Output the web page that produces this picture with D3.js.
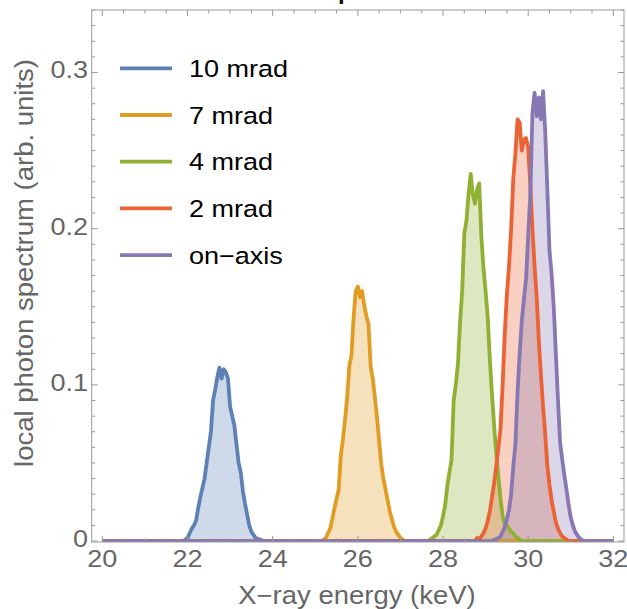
<!DOCTYPE html>
<html>
<head>
<meta charset="utf-8">
<script src="https://cdn.jsdelivr.net/npm/d3@7"></script>
<style>
  html, body { margin: 0; padding: 0; background: #fff; }
  svg { display: block; font-family: "Liberation Sans", Arial, Helvetica, sans-serif; }
</style>
</head>
<body>
<svg id="chart" width="627" height="609"></svg>
<script>
// ---------------- data ----------------
const seriesNames = ["10 mrad", "7 mrad", "4 mrad", "2 mrad", "on\u2212axis"];
const seriesColors = ["#5E81B5", "#E19C24", "#8FB032", "#EB6235", "#8778B3"];

const xTicks = [20, 22, 24, 26, 28, 30, 32];
const yTicks = [0, 0.1, 0.2, 0.3];
const yTickLabels = ["0", "0.1", "0.2", "0.3"];

// 10 mrad
const e10 = [21.90,21.95,22.00,22.05,22.10,22.15,22.20,22.25,22.30,22.35,22.40,22.45,22.50,22.55,22.60,22.65,22.70,22.75,22.80,22.85,22.90,22.95,23.00,23.05,23.10,23.15,23.20,23.25,23.30,23.35,23.40,23.45,23.50,23.55,23.60,23.65,23.70,23.75,23.80];
const v10 = [0,0.001,0.002,0.005,0.008,0.010,0.013,0.021,0.028,0.034,0.040,0.050,0.060,0.070,0.090,0.097,0.105,0.111,0.104,0.110,0.108,0.104,0.086,0.080,0.074,0.062,0.050,0.044,0.032,0.024,0.017,0.010,0.006,0.004,0.002,0.0015,0.001,0.0005,0];
// 7 mrad
const e7 = [25.15,25.20,25.25,25.30,25.35,25.40,25.45,25.50,25.55,25.60,25.65,25.70,25.75,25.80,25.85,25.90,25.95,26.00,26.05,26.10,26.15,26.20,26.25,26.30,26.35,26.40,26.45,26.50,26.55,26.60,26.65,26.70,26.75,26.80,26.85,26.90,26.95,27.00,27.05,27.10];
const v7 = [0,0.001,0.002,0.005,0.008,0.014,0.021,0.027,0.033,0.055,0.065,0.078,0.092,0.112,0.119,0.143,0.160,0.163,0.156,0.160,0.151,0.144,0.139,0.112,0.104,0.092,0.079,0.064,0.049,0.040,0.033,0.026,0.019,0.014,0.009,0.006,0.004,0.002,0.001,0];
// 4 mrad
const e4 = [27.65,27.70,27.75,27.80,27.85,27.90,27.95,28.00,28.05,28.10,28.15,28.20,28.25,28.30,28.35,28.40,28.45,28.50,28.55,28.60,28.65,28.70,28.75,28.80,28.85,28.90,28.95,29.00,29.05,29.10,29.15,29.20,29.25,29.30,29.35,29.40,29.45,29.50,29.55,29.60,29.65,29.70,29.75,29.80,29.85];
const v4 = [0,0.001,0.002,0.003,0.004,0.007,0.010,0.016,0.023,0.035,0.044,0.052,0.090,0.100,0.113,0.140,0.160,0.197,0.205,0.222,0.235,0.222,0.216,0.225,0.229,0.195,0.175,0.160,0.143,0.116,0.094,0.074,0.056,0.041,0.027,0.016,0.011,0.010,0.008,0.006,0.005,0.003,0.002,0.001,0];
// 2 mrad
const e2 = [28.75,28.80,28.85,28.90,28.95,29.00,29.05,29.10,29.15,29.20,29.25,29.30,29.35,29.40,29.45,29.50,29.55,29.60,29.65,29.70,29.75,29.80,29.85,29.90,29.95,30.00,30.05,30.10,30.15,30.20,30.25,30.30,30.35,30.40,30.45,30.50,30.55,30.60,30.65,30.70,30.75,30.80,30.85,30.90,30.95];
const v2 = [0,0.002,0.001,0.003,0.005,0.008,0.013,0.019,0.028,0.037,0.048,0.060,0.072,0.100,0.133,0.158,0.176,0.200,0.232,0.248,0.270,0.268,0.250,0.257,0.258,0.252,0.228,0.200,0.176,0.156,0.128,0.106,0.086,0.068,0.048,0.036,0.026,0.019,0.012,0.008,0.005,0.003,0.002,0.001,0];
// on-axis
const e0 = [29.15,29.20,29.25,29.30,29.35,29.40,29.45,29.50,29.55,29.60,29.65,29.70,29.75,29.80,29.85,29.90,29.95,30.00,30.05,30.10,30.15,30.20,30.25,30.30,30.35,30.40,30.45,30.50,30.55,30.60,30.65,30.70,30.75,30.80,30.85,30.90,30.95,31.00,31.05,31.10,31.15,31.20,31.25,31.30];
const v0 = [0,0.001,0.001,0.002,0.003,0.006,0.009,0.014,0.020,0.030,0.048,0.062,0.095,0.120,0.141,0.155,0.168,0.195,0.222,0.274,0.287,0.272,0.284,0.270,0.288,0.262,0.225,0.186,0.171,0.150,0.120,0.090,0.063,0.052,0.042,0.033,0.023,0.015,0.010,0.006,0.004,0.002,0.001,0];

const energies = [e10, e7, e4, e2, e0];
const values = [v10, v7, v4, v2, v0];
const xRange = [20, 32];

// ---------------- layout ----------------
const svg = d3.select("#chart");
const frame = { left: 91.7, right: 624, top: 10, bottom: 542 };
const x = d3.scaleLinear().domain([19.75, 32.25]).range([frame.left, frame.right]);
const y = d3.scaleLinear().domain([-0.0006, 0.34]).range([frame.bottom, frame.top]);

const labelGray = "#666666";
const frameGray = "#999999";
const stretch = 1.15;

// helper: horizontally widened text (the reference glyphs are wider than Liberation Sans)
function wideText(g, tx, ty, str, opts) {
  const t = g.append("text")
    .attr("transform", `translate(${tx},${ty})${opts.rotate ? ` rotate(${opts.rotate})` : ""} scale(${opts.sx || stretch},1)`)
    .attr("x", 0).attr("y", 0)
    .attr("text-anchor", opts.anchor || "start")
    .attr("font-size", opts.size)
    .attr("fill", opts.fill || labelGray)
    .text(str);
  if (opts.weight) t.attr("font-weight", opts.weight);
  return t;
}

// build series points (full range, zero outside the peak)
const series = seriesNames.map((name, i) => {
  const pts = [[xRange[0], 0]];
  energies[i].forEach((e, j) => pts.push([e, values[i][j]]));
  pts.push([xRange[1], 0]);
  return { name, color: seriesColors[i], pts };
});

const clipId = "plotclip";
svg.append("defs").append("clipPath").attr("id", clipId)
  .append("rect").attr("x", frame.left).attr("y", frame.top)
  .attr("width", frame.right - frame.left).attr("height", frame.bottom - frame.top);

const plot = svg.append("g").attr("clip-path", `url(#${clipId})`);

const area = d3.area().x(d => x(d[0])).y0(y(0)).y1(d => y(d[1]));
const line = d3.line().x(d => x(d[0])).y(d => y(d[1]));

plot.selectAll("path.fill").data(series).join("path")
  .attr("class", "fill")
  .attr("d", d => area(d.pts))
  .attr("fill", d => d.color)
  .attr("fill-opacity", 0.3)
  .attr("stroke", "none");

plot.selectAll("path.line").data(series).join("path")
  .attr("class", "line")
  .attr("d", d => line(d.pts))
  .attr("fill", "none")
  .attr("stroke", d => d.color)
  .attr("stroke-width", 3.8)
  .attr("stroke-linejoin", "round");

// ---------------- frame & ticks ----------------
svg.append("rect")
  .attr("x", frame.left).attr("y", frame.top)
  .attr("width", frame.right - frame.left).attr("height", frame.bottom - frame.top)
  .attr("fill", "none").attr("stroke", frameGray).attr("stroke-width", 1);

const majorLen = 6, minorLen = 3.5;
const xMinor = d3.range(40, 65).map(v => v / 2).filter(v => !xTicks.includes(v));
const yMinor = d3.range(0, 35).map(v => v / 100).filter(v => Math.round(v * 100) % 10 !== 0);

const tickG = svg.append("g").attr("stroke", frameGray).attr("stroke-width", 1);
function xTick(v, len) {
  tickG.append("line").attr("x1", x(v)).attr("x2", x(v)).attr("y1", frame.bottom).attr("y2", frame.bottom - len);
  tickG.append("line").attr("x1", x(v)).attr("x2", x(v)).attr("y1", frame.top).attr("y2", frame.top + len);
}
function yTick(v, len) {
  tickG.append("line").attr("x1", frame.left).attr("x2", frame.left + len).attr("y1", y(v)).attr("y2", y(v));
  tickG.append("line").attr("x1", frame.right).attr("x2", frame.right - len).attr("y1", y(v)).attr("y2", y(v));
}
xTicks.forEach(v => xTick(v, majorLen));
xMinor.forEach(v => xTick(v, minorLen));
yTicks.forEach(v => yTick(v, majorLen));
yMinor.forEach(v => yTick(v, minorLen));

// tick labels
const xl = svg.append("g");
xTicks.forEach(v => wideText(xl, x(v), 566.5, String(v), { anchor: "middle", size: 23.5 }));
const yl = svg.append("g");
yTicks.forEach((v, i) => wideText(yl, 88, y(v) + 6, yTickLabels[i], { anchor: "end", size: 23.5 }));

// axis titles
wideText(svg, 357, 604, "X\u2212ray energy (keV)", { anchor: "middle", size: 25, sx: 1.1 });
wideText(svg, 33, 263, "local photon spectrum (arb. units)", { anchor: "middle", size: 25, sx: 1.1, rotate: -90 });

// title (mostly cut off at the top of the picture, as in the reference)
wideText(svg, 322, -1, "Spectra", { anchor: "start", size: 24, weight: "bold", fill: "#111", sx: 1 });

// ---------------- legend ----------------
const legend = svg.append("g");
series.forEach((s, i) => {
  const ly = 68.3 + i * 46.7;
  legend.append("line").attr("x1", 120).attr("x2", 172).attr("y1", ly).attr("y2", ly)
    .attr("stroke", s.color).attr("stroke-width", 3.8);
  wideText(legend, 189, ly + 8.5, s.name, { size: 23.5, fill: "#000" });
});
</script>
</body>
</html>
